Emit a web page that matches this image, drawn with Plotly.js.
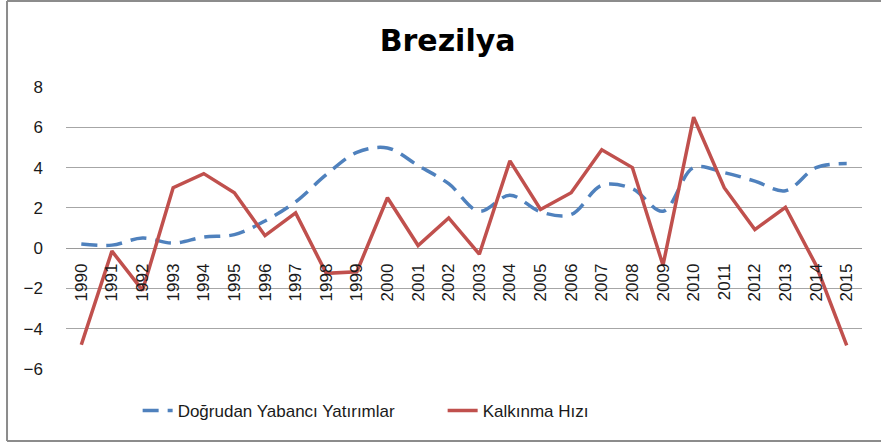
<!DOCTYPE html>
<html>
<head>
<meta charset="utf-8">
<script src="https://cdn.plot.ly/plotly-3.0.1.min.js"></script>
<style>html,body{margin:0;padding:0;background:#fff;}#chart{width:881px;height:446px;}</style>
</head>
<body>
<div id="chart"></div>
<script>
var years = ["1990","1991","1992","1993","1994","1995","1996","1997","1998","1999","2000","2001","2002","2003","2004","2005","2006","2007","2008","2009","2010","2011","2012","2013","2014","2015"];
var fdiValues = [0.2, 0.15, 0.5, 0.25, 0.55, 0.67, 1.35, 2.3, 3.65, 4.75, 4.97, 4.1, 3.2, 1.83, 2.63, 1.8, 1.67, 3.12, 2.95, 1.83, 4.0, 3.75, 3.33, 2.85, 4.0, 4.2];
var growthValues = [-4.8, -0.15, -2.1, 3.0, 3.7, 2.75, 0.62, 1.75, -1.25, -1.17, 2.5, 0.13, 1.5, -0.3, 4.33, 1.92, 2.75, 4.88, 4.0, -0.85, 6.5, 3.0, 0.92, 2.03, -0.85, -4.83];
var seriesNames = ["Doğrudan Yabancı Yatırımlar", "Kalkınma Hızı"];
var yTicks = [-6, -4, -2, 0, 2, 4, 6, 8];

var traces = [
  {x: years, y: fdiValues, name: seriesNames[0], type: "scatter", mode: "lines",
   line: {color: "#4F81BD", width: 3.5, dash: "16px,9px", shape: "spline", smoothing: 1}},
  {x: years, y: growthValues, name: seriesNames[1], type: "scatter", mode: "lines",
   line: {color: "#C0504D", width: 3.5}}
];

var layout = {
  width: 881, height: 446,
  margin: {l: 66, r: 19, t: 87, b: 77},
  paper_bgcolor: "#fff", plot_bgcolor: "#fff",
  font: {family: "Liberation Sans, Arial, sans-serif", color: "#1a1a1a"},
  title: {text: "<b>Brezilya</b>", font: {family: "DejaVu Sans", size: 30, color: "#000"},
          xref: "container", yref: "container", x: 0.508, y: 0.91, xanchor: "center", yanchor: "middle"},
  xaxis: {type: "category", range: [-0.5, 25.5], anchor: "free", position: 5.45/14,
          showgrid: false, showline: false, zeroline: false,
          ticks: "", tickangle: -90,
          tickfont: {size: 17, color: "#1a1a1a"}, fixedrange: true},
  yaxis: {range: [-6, 8], tickvals: yTicks, showgrid: true, gridcolor: "#a6a6a6", gridwidth: 1,
          zeroline: true, zerolinecolor: "#9a9a9a", zerolinewidth: 1,
          showline: false, ticks: "", tickfont: {size: 17, color: "#1a1a1a"},
          ticklabelstandoff: 22, fixedrange: true},
  showlegend: true,
  legend: {orientation: "h", x: 0.09, xanchor: "left", y: -0.149, yanchor: "middle",
           font: {size: 17, color: "#1a1a1a"}, entrywidth: 260, bgcolor: "rgba(0,0,0,0)"},
  shapes: [
    {type: "line", xref: "paper", yref: "paper", x0: -0.0741, x1: -0.0741, y0: -0.2553, y1: 1.305, line: {color: "#8c8c8c", width: 2}},
    {type: "line", xref: "paper", yref: "paper", x0: -0.0741, x1: 1.03, y0: 1.305, y1: 1.305, line: {color: "#8c8c8c", width: 2}},
    {type: "line", xref: "paper", yref: "paper", x0: -0.0741, x1: 1.03, y0: -0.2553, y1: -0.2553, line: {color: "#8c8c8c", width: 2}}
  ]
};

Plotly.newPlot("chart", traces, layout, {staticPlot: true, displayModeBar: false});
</script>
</body>
</html>
